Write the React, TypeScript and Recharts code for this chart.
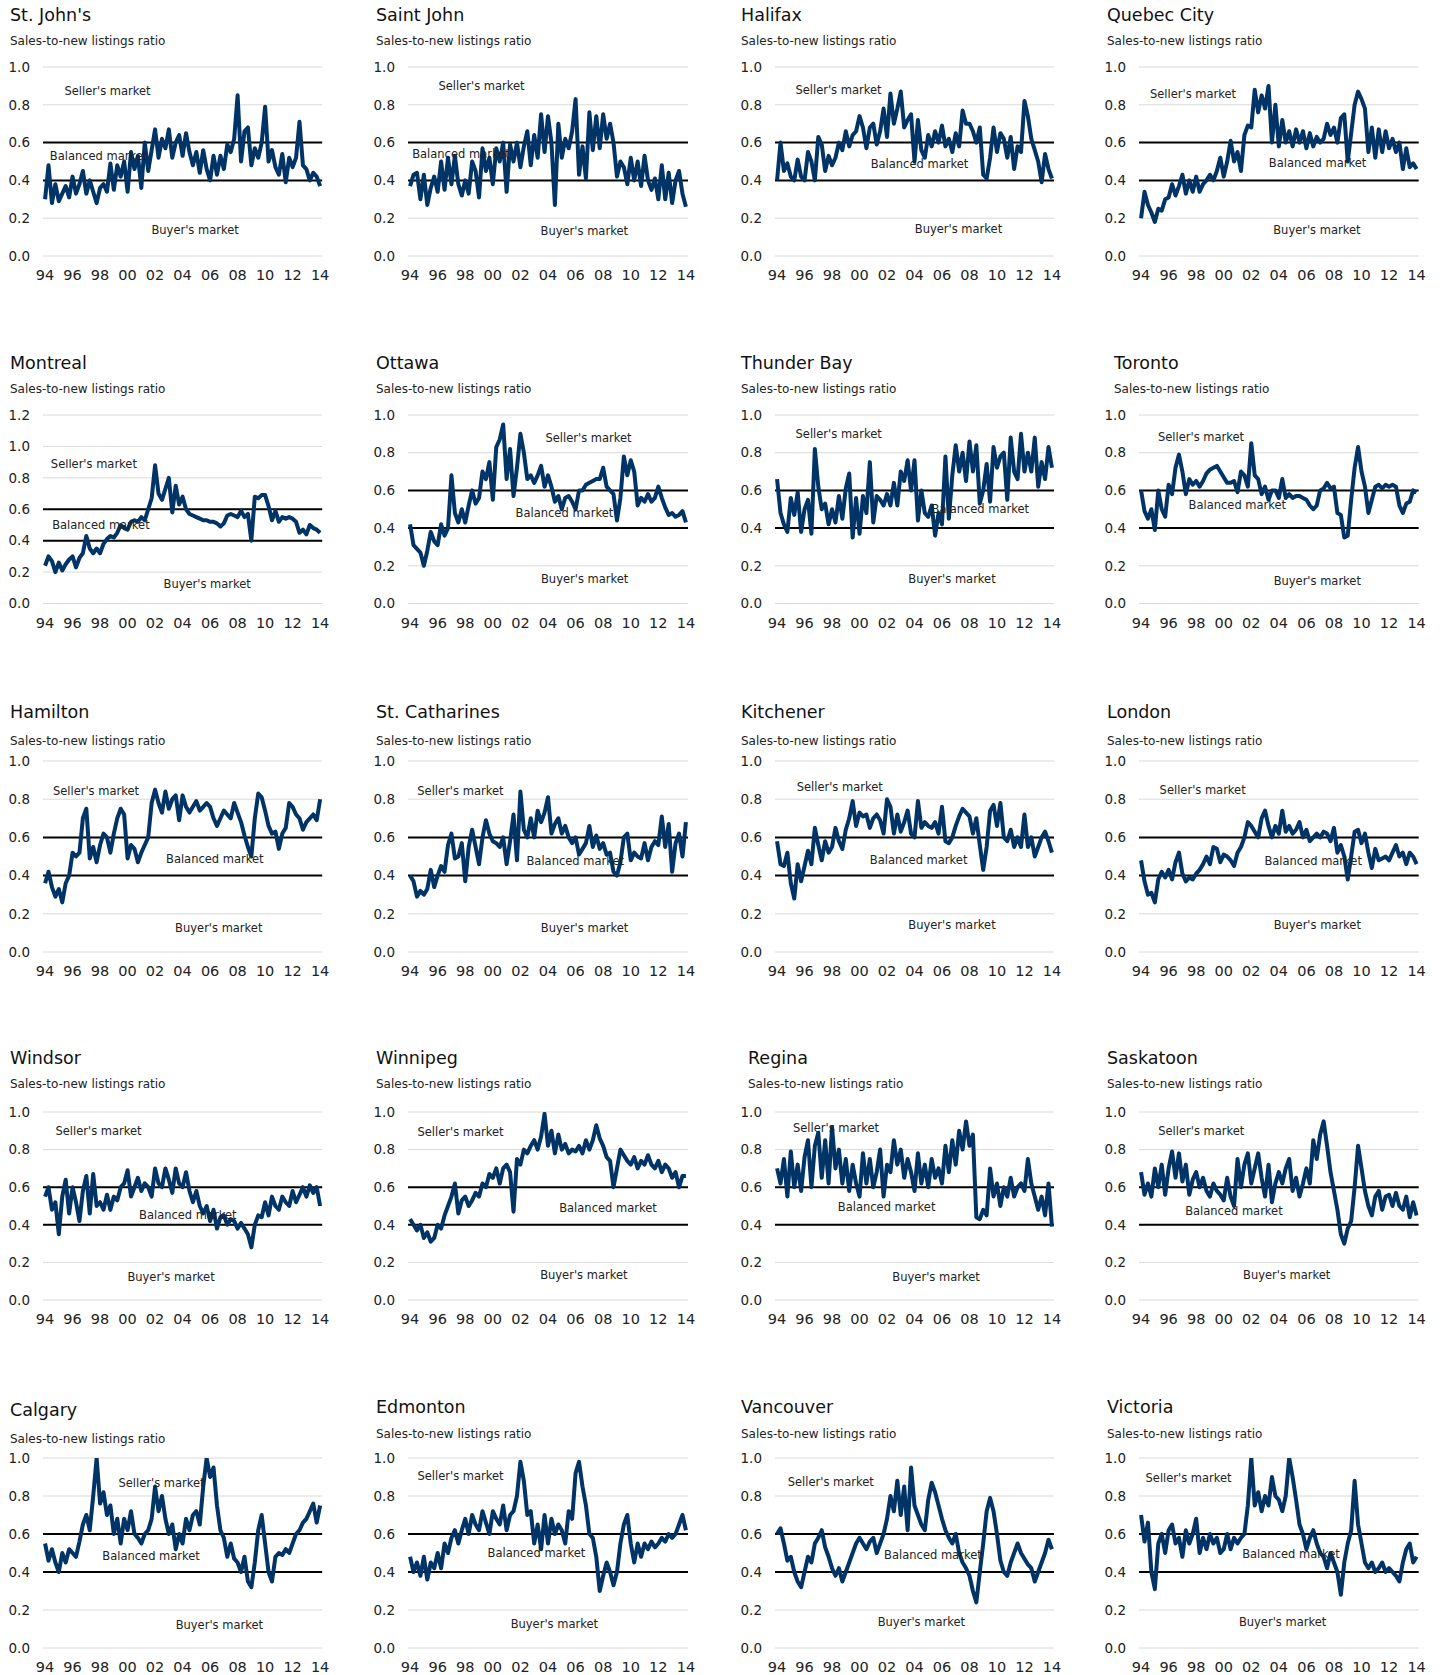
import React from "react";
import {
  LineChart,
  Line,
  XAxis,
  YAxis,
  CartesianGrid,
  ReferenceLine,
  ReferenceDot,
} from "recharts";

const FONT = "'DejaVu Sans', Verdana, sans-serif";
const NAVY = "#003366";
const TEXT = "#222";

// quarterly time index, 1994Q1 .. 2014Q1
const YEARS = Array.from({ length: 81 }, (_, i) => 1994 + i / 4);
const X_TICKS = [1994, 1996, 1998, 2000, 2002, 2004, 2006, 2008, 2010, 2012, 2014];
const Y_TICKS = [0, 0.2, 0.4, 0.6, 0.8, 1.0];
const Y_TICKS_12 = [0, 0.2, 0.4, 0.6, 0.8, 1.0, 1.2];

const ST_JOHNS = [
  0.30, 0.48, 0.28, 0.38, 0.29, 0.33, 0.37, 0.31, 0.42, 0.33, 0.38, 0.45,
  0.33, 0.40, 0.34, 0.28, 0.36, 0.38, 0.34, 0.49, 0.35, 0.48, 0.42, 0.50,
  0.34, 0.55, 0.46, 0.53, 0.36, 0.60, 0.45, 0.56, 0.67, 0.52, 0.62, 0.57,
  0.67, 0.52, 0.60, 0.64, 0.53, 0.65, 0.55, 0.48, 0.55, 0.44, 0.56, 0.46,
  0.40, 0.53, 0.43, 0.53, 0.46, 0.59, 0.55, 0.62, 0.85, 0.50, 0.66, 0.68,
  0.48, 0.57, 0.52, 0.60, 0.79, 0.50, 0.56, 0.47, 0.43, 0.54, 0.39, 0.52,
  0.47, 0.52, 0.71, 0.48, 0.46, 0.40, 0.44, 0.42, 0.37,
];
const SAINT_JOHN = [
  0.37, 0.43, 0.44, 0.30, 0.43, 0.27, 0.36, 0.42, 0.34, 0.50, 0.35, 0.52,
  0.38, 0.53, 0.38, 0.32, 0.40, 0.33, 0.50, 0.45, 0.31, 0.57, 0.45, 0.52,
  0.38, 0.57, 0.50, 0.60, 0.34, 0.59, 0.50, 0.60, 0.47, 0.58, 0.66, 0.48,
  0.64, 0.52, 0.75, 0.55, 0.74, 0.60, 0.27, 0.70, 0.52, 0.62, 0.57, 0.66,
  0.83, 0.43, 0.58, 0.41, 0.76, 0.56, 0.74, 0.57, 0.75, 0.62, 0.70, 0.60,
  0.42, 0.50, 0.47, 0.38, 0.52, 0.40, 0.50, 0.37, 0.53, 0.40, 0.35, 0.41,
  0.30, 0.48, 0.30, 0.44, 0.28, 0.40, 0.45, 0.33, 0.26,
];
const HALIFAX = [
  0.40, 0.60, 0.45, 0.49, 0.42, 0.40, 0.51, 0.42, 0.40, 0.55, 0.50, 0.40,
  0.63, 0.59, 0.45, 0.53, 0.48, 0.52, 0.60, 0.56, 0.66, 0.58, 0.64, 0.66,
  0.74, 0.68, 0.57, 0.68, 0.70, 0.59, 0.66, 0.78, 0.63, 0.86, 0.70, 0.78,
  0.87, 0.68, 0.72, 0.75, 0.50, 0.72, 0.56, 0.52, 0.64, 0.58, 0.66, 0.60,
  0.69, 0.58, 0.62, 0.55, 0.65, 0.58, 0.77, 0.70, 0.70, 0.66, 0.60, 0.68,
  0.43, 0.41, 0.52, 0.68, 0.55, 0.65, 0.62, 0.52, 0.63, 0.46, 0.58, 0.55,
  0.82, 0.74, 0.62, 0.56, 0.50, 0.39, 0.54, 0.46, 0.41,
];
const QUEBEC_CITY = [
  0.20, 0.34, 0.27, 0.23, 0.18, 0.25, 0.24, 0.30, 0.31, 0.38, 0.32, 0.37,
  0.43, 0.33, 0.40, 0.34, 0.42, 0.34, 0.38, 0.40, 0.43, 0.40, 0.45, 0.52,
  0.42, 0.50, 0.61, 0.50, 0.55, 0.45, 0.64, 0.69, 0.68, 0.88, 0.76, 0.85,
  0.78, 0.90, 0.60, 0.80, 0.58, 0.72, 0.60, 0.66, 0.58, 0.67, 0.60, 0.66,
  0.57, 0.65, 0.58, 0.63, 0.60, 0.62, 0.70, 0.64, 0.68, 0.60, 0.73, 0.75,
  0.50, 0.65, 0.80, 0.87, 0.83, 0.78, 0.55, 0.68, 0.52, 0.67, 0.55, 0.66,
  0.57, 0.62, 0.55, 0.60, 0.46, 0.57, 0.47, 0.49, 0.46,
];
const MONTREAL = [
  0.24, 0.30, 0.27, 0.20, 0.26, 0.21, 0.25, 0.28, 0.30, 0.23, 0.29, 0.32,
  0.43, 0.35, 0.32, 0.35, 0.32, 0.38, 0.41, 0.43, 0.42, 0.45, 0.50, 0.48,
  0.47, 0.52, 0.53, 0.52, 0.55, 0.53, 0.60, 0.67, 0.88, 0.70, 0.66, 0.73,
  0.80, 0.58, 0.75, 0.63, 0.68, 0.60, 0.57, 0.56, 0.55, 0.54, 0.53, 0.53,
  0.52, 0.52, 0.51, 0.49, 0.51, 0.56, 0.57, 0.56, 0.55, 0.59, 0.55, 0.57,
  0.40, 0.68, 0.67, 0.69, 0.69, 0.62, 0.53, 0.59, 0.52, 0.55, 0.54, 0.55,
  0.54, 0.52, 0.45, 0.47, 0.44, 0.50, 0.48, 0.47, 0.45,
];
const OTTAWA = [
  0.42, 0.31, 0.29, 0.27, 0.20, 0.28, 0.38, 0.33, 0.31, 0.42, 0.36, 0.40,
  0.68, 0.48, 0.43, 0.50, 0.43, 0.52, 0.60, 0.53, 0.56, 0.70, 0.66, 0.75,
  0.55, 0.83, 0.87, 0.95, 0.66, 0.82, 0.57, 0.72, 0.90, 0.80, 0.66, 0.68,
  0.64, 0.68, 0.73, 0.62, 0.68, 0.62, 0.54, 0.57, 0.50, 0.56, 0.57, 0.54,
  0.50, 0.60, 0.60, 0.63, 0.64, 0.65, 0.66, 0.66, 0.72, 0.62, 0.60, 0.58,
  0.44, 0.56, 0.78, 0.68, 0.76, 0.70, 0.52, 0.56, 0.54, 0.58, 0.54, 0.56,
  0.62, 0.56, 0.51, 0.47, 0.48, 0.46, 0.47, 0.49, 0.43,
];
const THUNDER_BAY = [
  0.66, 0.48, 0.42, 0.38, 0.56, 0.47, 0.59, 0.38, 0.50, 0.55, 0.37, 0.82,
  0.62, 0.50, 0.53, 0.42, 0.50, 0.43, 0.57, 0.45, 0.61, 0.69, 0.35, 0.56,
  0.37, 0.57, 0.48, 0.75, 0.43, 0.57, 0.55, 0.52, 0.58, 0.52, 0.64, 0.52,
  0.70, 0.65, 0.76, 0.60, 0.76, 0.44, 0.60, 0.48, 0.46, 0.52, 0.36, 0.48,
  0.42, 0.78, 0.45, 0.68, 0.84, 0.70, 0.80, 0.65, 0.86, 0.70, 0.84, 0.53,
  0.60, 0.74, 0.54, 0.83, 0.72, 0.78, 0.80, 0.55, 0.88, 0.70, 0.66, 0.90,
  0.70, 0.80, 0.70, 0.88, 0.62, 0.75, 0.66, 0.83, 0.72,
];
const TORONTO = [
  0.60, 0.49, 0.45, 0.50, 0.39, 0.60, 0.50, 0.46, 0.63, 0.58, 0.72, 0.79,
  0.70, 0.58, 0.66, 0.63, 0.65, 0.62, 0.65, 0.69, 0.71, 0.72, 0.73, 0.70,
  0.67, 0.64, 0.64, 0.65, 0.59, 0.70, 0.68, 0.62, 0.85, 0.68, 0.66, 0.58,
  0.62, 0.55, 0.60, 0.60, 0.56, 0.66, 0.56, 0.58, 0.56, 0.57, 0.57, 0.56,
  0.55, 0.52, 0.50, 0.52, 0.60, 0.61, 0.64, 0.61, 0.62, 0.48, 0.47, 0.35,
  0.36, 0.55, 0.72, 0.83, 0.70, 0.62, 0.48, 0.55, 0.62, 0.63, 0.61, 0.63,
  0.62, 0.63, 0.62, 0.52, 0.48, 0.53, 0.54, 0.60, 0.59,
];
const HAMILTON = [
  0.36, 0.42, 0.34, 0.29, 0.33, 0.26, 0.36, 0.40, 0.52, 0.50, 0.52, 0.70,
  0.75, 0.49, 0.55, 0.47, 0.56, 0.62, 0.60, 0.52, 0.62, 0.70, 0.75, 0.72,
  0.49, 0.56, 0.54, 0.47, 0.52, 0.56, 0.60, 0.78, 0.85, 0.78, 0.73, 0.84,
  0.75, 0.80, 0.82, 0.69, 0.82, 0.76, 0.73, 0.76, 0.79, 0.74, 0.76, 0.78,
  0.76, 0.70, 0.66, 0.70, 0.74, 0.72, 0.70, 0.78, 0.73, 0.68, 0.61, 0.55,
  0.50, 0.70, 0.83, 0.81, 0.74, 0.66, 0.62, 0.63, 0.54, 0.62, 0.65, 0.78,
  0.76, 0.72, 0.70, 0.64, 0.68, 0.70, 0.72, 0.69, 0.80,
];
const ST_CATHARINES = [
  0.40, 0.37, 0.29, 0.32, 0.30, 0.33, 0.43, 0.34, 0.40, 0.45, 0.42, 0.56,
  0.62, 0.49, 0.50, 0.57, 0.37, 0.55, 0.64, 0.55, 0.46, 0.60, 0.69, 0.62,
  0.58, 0.57, 0.55, 0.60, 0.46, 0.58, 0.72, 0.48, 0.84, 0.64, 0.60, 0.70,
  0.60, 0.74, 0.68, 0.73, 0.81, 0.62, 0.67, 0.70, 0.62, 0.66, 0.60, 0.57,
  0.60, 0.51, 0.54, 0.57, 0.66, 0.55, 0.61, 0.54, 0.57, 0.51, 0.52, 0.42,
  0.40, 0.47, 0.60, 0.62, 0.48, 0.52, 0.50, 0.49, 0.57, 0.48, 0.55, 0.58,
  0.56, 0.71, 0.55, 0.67, 0.42, 0.57, 0.62, 0.50, 0.68,
];
const KITCHENER = [
  0.58, 0.46, 0.45, 0.52, 0.36, 0.28, 0.46, 0.37, 0.45, 0.53, 0.46, 0.65,
  0.56, 0.48, 0.58, 0.52, 0.55, 0.65, 0.58, 0.54, 0.64, 0.70, 0.79, 0.66,
  0.73, 0.71, 0.72, 0.65, 0.70, 0.72, 0.69, 0.62, 0.80, 0.76, 0.62, 0.72,
  0.63, 0.68, 0.74, 0.62, 0.60, 0.79, 0.65, 0.68, 0.66, 0.65, 0.68, 0.62,
  0.76, 0.58, 0.57, 0.60, 0.66, 0.71, 0.75, 0.73, 0.71, 0.62, 0.70, 0.56,
  0.43, 0.55, 0.74, 0.77, 0.66, 0.78, 0.60, 0.58, 0.64, 0.55, 0.60, 0.55,
  0.72, 0.55, 0.60, 0.50, 0.55, 0.60, 0.63, 0.58, 0.52,
];
const LONDON = [
  0.48, 0.37, 0.30, 0.31, 0.26, 0.38, 0.42, 0.39, 0.43, 0.38, 0.47, 0.52,
  0.41, 0.37, 0.39, 0.38, 0.41, 0.43, 0.46, 0.50, 0.46, 0.55, 0.54, 0.47,
  0.51, 0.50, 0.48, 0.45, 0.52, 0.55, 0.60, 0.68, 0.66, 0.63, 0.60, 0.70,
  0.74, 0.66, 0.60, 0.66, 0.62, 0.74, 0.63, 0.66, 0.62, 0.64, 0.68, 0.60,
  0.64, 0.58, 0.60, 0.62, 0.60, 0.63, 0.62, 0.58, 0.65, 0.52, 0.56, 0.50,
  0.38, 0.50, 0.63, 0.64, 0.57, 0.62, 0.52, 0.44, 0.54, 0.48, 0.49, 0.50,
  0.48, 0.52, 0.56, 0.50, 0.52, 0.46, 0.52, 0.50, 0.46,
];
const WINDSOR = [
  0.55, 0.60, 0.48, 0.52, 0.35, 0.55, 0.64, 0.46, 0.60, 0.52, 0.42, 0.58,
  0.66, 0.46, 0.67, 0.50, 0.52, 0.48, 0.56, 0.48, 0.55, 0.53, 0.60, 0.62,
  0.69, 0.55, 0.60, 0.65, 0.58, 0.62, 0.60, 0.55, 0.70, 0.62, 0.60, 0.70,
  0.64, 0.57, 0.70, 0.62, 0.60, 0.68, 0.58, 0.52, 0.58, 0.50, 0.46, 0.50,
  0.42, 0.48, 0.38, 0.44, 0.45, 0.40, 0.43, 0.42, 0.38, 0.41, 0.38, 0.35,
  0.28, 0.40, 0.45, 0.44, 0.52, 0.45, 0.55, 0.50, 0.48, 0.55, 0.52, 0.50,
  0.58, 0.52, 0.56, 0.60, 0.55, 0.61, 0.57, 0.60, 0.50,
];
const WINNIPEG = [
  0.43, 0.40, 0.37, 0.40, 0.33, 0.36, 0.31, 0.33, 0.40, 0.38, 0.45, 0.50,
  0.55, 0.62, 0.46, 0.53, 0.55, 0.50, 0.53, 0.57, 0.55, 0.62, 0.60, 0.67,
  0.65, 0.70, 0.62, 0.70, 0.72, 0.68, 0.47, 0.75, 0.72, 0.80, 0.78, 0.82,
  0.85, 0.80, 0.87, 0.99, 0.82, 0.90, 0.78, 0.88, 0.80, 0.83, 0.78, 0.80,
  0.79, 0.82, 0.78, 0.85, 0.80, 0.85, 0.93, 0.86, 0.82, 0.76, 0.74, 0.60,
  0.70, 0.80, 0.77, 0.74, 0.72, 0.76, 0.70, 0.74, 0.72, 0.77, 0.72, 0.70,
  0.74, 0.68, 0.72, 0.70, 0.65, 0.68, 0.60, 0.66, 0.66,
];
const REGINA = [
  0.70, 0.62, 0.75, 0.55, 0.79, 0.60, 0.72, 0.58, 0.76, 0.85, 0.60, 0.82,
  0.89, 0.65, 0.85, 0.62, 0.92, 0.70, 0.80, 0.62, 0.75, 0.58, 0.72, 0.62,
  0.55, 0.78, 0.62, 0.75, 0.60, 0.68, 0.80, 0.55, 0.72, 0.68, 0.85, 0.72,
  0.80, 0.65, 0.75, 0.68, 0.58, 0.78, 0.62, 0.72, 0.60, 0.75, 0.65, 0.70,
  0.62, 0.82, 0.68, 0.85, 0.72, 0.90, 0.80, 0.95, 0.82, 0.88, 0.44, 0.43,
  0.48, 0.45, 0.70, 0.55, 0.62, 0.50, 0.60, 0.55, 0.65, 0.55, 0.60, 0.62,
  0.58, 0.75, 0.62, 0.55, 0.48, 0.55, 0.45, 0.62, 0.39,
];
const SASKATOON = [
  0.68, 0.56, 0.62, 0.55, 0.70, 0.60, 0.72, 0.56, 0.70, 0.79, 0.65, 0.78,
  0.63, 0.72, 0.56, 0.64, 0.68, 0.60, 0.65, 0.58, 0.55, 0.62, 0.58, 0.56,
  0.53, 0.65, 0.55, 0.50, 0.75, 0.60, 0.72, 0.78, 0.62, 0.70, 0.78, 0.65,
  0.55, 0.72, 0.52, 0.62, 0.68, 0.62, 0.70, 0.75, 0.58, 0.65, 0.55, 0.62,
  0.70, 0.62, 0.85, 0.75, 0.88, 0.95, 0.82, 0.68, 0.58, 0.48, 0.35, 0.30,
  0.38, 0.42, 0.60, 0.82, 0.70, 0.58, 0.50, 0.45, 0.55, 0.58, 0.48, 0.55,
  0.56, 0.50, 0.57, 0.50, 0.48, 0.55, 0.44, 0.52, 0.45,
];
const CALGARY = [
  0.55, 0.46, 0.52, 0.45, 0.40, 0.50, 0.45, 0.52, 0.50, 0.48, 0.56, 0.65,
  0.70, 0.62, 0.80, 1.00, 0.76, 0.82, 0.70, 0.75, 0.60, 0.68, 0.55, 0.68,
  0.62, 0.72, 0.60, 0.58, 0.55, 0.60, 0.62, 0.68, 0.85, 0.72, 0.80, 0.68,
  0.60, 0.65, 0.52, 0.60, 0.55, 0.68, 0.62, 0.70, 0.72, 0.65, 0.85, 1.00,
  0.90, 0.95, 0.75, 0.62, 0.58, 0.48, 0.55, 0.47, 0.45, 0.40, 0.48, 0.35,
  0.32, 0.45, 0.62, 0.70, 0.55, 0.40, 0.35, 0.48, 0.50, 0.49, 0.52, 0.50,
  0.55, 0.60, 0.62, 0.66, 0.68, 0.72, 0.76, 0.66, 0.75,
];
const EDMONTON = [
  0.48, 0.40, 0.45, 0.38, 0.48, 0.36, 0.45, 0.42, 0.50, 0.42, 0.55, 0.50,
  0.58, 0.62, 0.55, 0.62, 0.68, 0.60, 0.70, 0.65, 0.62, 0.72, 0.66, 0.60,
  0.72, 0.68, 0.65, 0.75, 0.62, 0.70, 0.72, 0.80, 0.98, 0.88, 0.70, 0.72,
  0.55, 0.65, 0.52, 0.70, 0.55, 0.68, 0.60, 0.65, 0.62, 0.55, 0.72, 0.68,
  0.92, 0.98, 0.85, 0.75, 0.60, 0.58, 0.48, 0.30, 0.38, 0.45, 0.40, 0.33,
  0.40, 0.55, 0.65, 0.70, 0.55, 0.45, 0.55, 0.48, 0.55, 0.52, 0.56, 0.53,
  0.55, 0.58, 0.56, 0.60, 0.58, 0.60, 0.65, 0.70, 0.62,
];
const VANCOUVER = [
  0.60, 0.63, 0.55, 0.46, 0.48, 0.40, 0.35, 0.32, 0.40, 0.48, 0.45, 0.55,
  0.58, 0.62, 0.53, 0.48, 0.42, 0.38, 0.42, 0.35, 0.40, 0.45, 0.50, 0.55,
  0.58, 0.55, 0.52, 0.56, 0.58, 0.50, 0.55, 0.60, 0.68, 0.80, 0.72, 0.88,
  0.70, 0.85, 0.62, 0.95, 0.75, 0.70, 0.65, 0.62, 0.78, 0.87, 0.82, 0.75,
  0.68, 0.62, 0.58, 0.55, 0.60, 0.50, 0.45, 0.42, 0.38, 0.30, 0.24, 0.40,
  0.55, 0.72, 0.79, 0.72, 0.60, 0.46, 0.40, 0.38, 0.45, 0.50, 0.55, 0.50,
  0.47, 0.44, 0.42, 0.35, 0.40, 0.45, 0.50, 0.57, 0.52,
];
const VICTORIA = [
  0.70, 0.56, 0.66, 0.40, 0.31, 0.55, 0.60, 0.50, 0.62, 0.65, 0.55, 0.58,
  0.48, 0.62, 0.55, 0.60, 0.68, 0.50, 0.58, 0.52, 0.60, 0.55, 0.58, 0.50,
  0.52, 0.60, 0.52, 0.58, 0.55, 0.58, 0.60, 0.75, 1.00, 0.75, 0.82, 0.72,
  0.80, 0.75, 0.90, 0.80, 0.78, 0.72, 0.80, 1.00, 0.90, 0.78, 0.65, 0.60,
  0.52, 0.58, 0.62, 0.55, 0.50, 0.48, 0.42, 0.50, 0.45, 0.40, 0.28, 0.45,
  0.55, 0.62, 0.88, 0.65, 0.55, 0.45, 0.42, 0.45, 0.40, 0.42, 0.45, 0.40,
  0.42, 0.40, 0.38, 0.35, 0.45, 0.52, 0.55, 0.45, 0.48,
];

// plot-area extents (page px) per grid column / row
const COL_PLOT = [
  [43.3, 322.5],
  [408, 688],
  [774.5, 1053.5],
  [1139.3, 1419],
];
const ROW_PLOT = [
  [66.7, 255.7],
  [415, 603.5],
  [761, 952],
  [1112, 1300],
  [1458, 1648],
];
const TITLE_X = [10, 376, 741, 1107];
const TITLE_Y = [14.5, 362.8, 712, 1057.5, 1407];
const SUB_Y = [40.5, 389.3, 741, 1084, 1434];

const Y_AXIS_W = 45;
const TOP = 10;
const RIGHT = 8;
const X_AXIS_H = 30;

type Pos = [number, number];
interface PanelSpec {
  name: string;
  values: number[];
  col: number;
  row: number;
  yMax?: number;
  titleX?: number;
  titleY?: number;
  subY?: number;
  seller: Pos;
  balanced: Pos;
  buyer: Pos;
}

const PANELS: PanelSpec[] = [
  { name: "St. John's", values: ST_JOHNS, col: 0, row: 0, seller: [1998.54, 0.873], balanced: [1997.89, 0.527], buyer: [2004.91, 0.136] },
  { name: "Saint John", values: SAINT_JOHN, col: 1, row: 0, seller: [1999.18, 0.898], balanced: [1997.69, 0.541], buyer: [2006.63, 0.132] },
  { name: "Halifax", values: HALIFAX, col: 2, row: 0, seller: [1998.47, 0.88], balanced: [2004.36, 0.489], buyer: [2007.2, 0.143] },
  { name: "Quebec City", values: QUEBEC_CITY, col: 3, row: 0, seller: [1997.77, 0.855], balanced: [2006.81, 0.492], buyer: [2006.76, 0.136] },
  { name: "Montreal", values: MONTREAL, col: 0, row: 1, yMax: 1.2, seller: [1997.55, 0.886], balanced: [1998.06, 0.499], buyer: [2005.79, 0.127] },
  { name: "Ottawa", values: OTTAWA, col: 1, row: 1, seller: [2006.94, 0.88], balanced: [2005.19, 0.481], buyer: [2006.66, 0.129] },
  { name: "Thunder Bay", values: THUNDER_BAY, col: 2, row: 1, seller: [1998.48, 0.898], balanced: [2008.79, 0.502], buyer: [2006.73, 0.129] },
  { name: "Toronto", values: TORONTO, col: 3, row: 1, titleX: 1114, seller: [1998.35, 0.885], balanced: [2000.99, 0.525], buyer: [2006.79, 0.12] },
  { name: "Hamilton", values: HAMILTON, col: 0, row: 2, seller: [1997.7, 0.843], balanced: [2006.34, 0.486], buyer: [2006.63, 0.128] },
  { name: "St. Catharines", values: ST_CATHARINES, col: 1, row: 2, seller: [1997.65, 0.843], balanced: [2005.98, 0.477], buyer: [2006.65, 0.128] },
  { name: "Kitchener", values: KITCHENER, col: 2, row: 2, seller: [1998.56, 0.865], balanced: [2004.3, 0.484], buyer: [2006.73, 0.143] },
  { name: "London", values: LONDON, col: 3, row: 2, seller: [1998.47, 0.851], balanced: [2006.49, 0.476], buyer: [2006.79, 0.143] },
  { name: "Windsor", values: WINDSOR, col: 0, row: 3, seller: [1997.89, 0.898], balanced: [2004.38, 0.455], buyer: [2003.16, 0.125] },
  { name: "Winnipeg", values: WINNIPEG, col: 1, row: 3, seller: [1997.66, 0.892], balanced: [2008.35, 0.489], buyer: [2006.6, 0.131] },
  { name: "Regina", values: REGINA, col: 2, row: 3, titleX: 748, seller: [1998.29, 0.915], balanced: [2001.97, 0.494], buyer: [2005.57, 0.125] },
  { name: "Saskatoon", values: SASKATOON, col: 3, row: 3, seller: [1998.37, 0.898], balanced: [2000.74, 0.472], buyer: [2004.57, 0.136] },
  { name: "Calgary", values: CALGARY, col: 0, row: 4, titleY: 1410, subY: 1438.6, seller: [2002.47, 0.871], balanced: [2001.71, 0.483], buyer: [2006.67, 0.124] },
  { name: "Edmonton", values: EDMONTON, col: 1, row: 4, seller: [1997.66, 0.904], balanced: [2003.16, 0.5], buyer: [2004.46, 0.129] },
  { name: "Vancouver", values: VANCOUVER, col: 2, row: 4, seller: [1997.91, 0.876], balanced: [2005.34, 0.489], buyer: [2004.5, 0.135] },
  { name: "Victoria", values: VICTORIA, col: 3, row: 4, seller: [1997.45, 0.893], balanced: [2004.88, 0.494], buyer: [2004.27, 0.135] },
];

const labelStyle = { fill: TEXT, fontSize: 11.5, fontFamily: FONT };

function Panel({ spec }: { spec: PanelSpec }) {
  const [pl, pr] = COL_PLOT[spec.col];
  const [pt, pb] = ROW_PLOT[spec.row];
  const yMax = spec.yMax ?? 1;
  const width = pr - pl + Y_AXIS_W + RIGHT;
  const height = pb - pt + TOP + X_AXIS_H;
  const data = YEARS.map((x, i) => ({ x, v: spec.values[i] }));
  const tx = spec.titleX ?? TITLE_X[spec.col];
  const ty = spec.titleY ?? TITLE_Y[spec.row];
  const sy = spec.subY ?? SUB_Y[spec.row];

  const notes: [string, Pos][] = [
    ["Seller's market", spec.seller],
    ["Balanced market", spec.balanced],
    ["Buyer's market", spec.buyer],
  ];

  return (
    <>
      <div
        style={{
          position: "absolute",
          left: tx,
          top: ty - 10,
          fontSize: 17.5,
          lineHeight: "20px",
          color: "#111",
          whiteSpace: "nowrap",
        }}
      >
        {spec.name}
      </div>
      <div
        style={{
          position: "absolute",
          left: tx,
          top: sy - 7,
          fontSize: 12,
          lineHeight: "14px",
          color: TEXT,
          whiteSpace: "nowrap",
        }}
      >
        Sales-to-new listings ratio
      </div>
      <div style={{ position: "absolute", left: pl - Y_AXIS_W, top: pt - TOP }}>
        <LineChart
          width={width}
          height={height}
          data={data}
          margin={{ top: TOP, right: RIGHT, bottom: 0, left: 0 }}
        >
          <CartesianGrid vertical={false} stroke="#d9d9d9" />
          <XAxis
            dataKey="x"
            type="number"
            domain={[1993.85, 2014.15]}
            allowDataOverflow
            ticks={X_TICKS}
            interval={0}
            tickFormatter={(v: number) => String(v).slice(2)}
            axisLine={false}
            tickLine={false}
            tickSize={0}
            tickMargin={14}
            height={X_AXIS_H}
            tick={{ fill: TEXT, fontSize: 14.5, fontFamily: FONT }}
          />
          <YAxis
            type="number"
            domain={[0, yMax]}
            allowDataOverflow
            ticks={yMax > 1 ? Y_TICKS_12 : Y_TICKS}
            interval={0}
            tickFormatter={(v: number) => v.toFixed(1)}
            axisLine={false}
            tickLine={false}
            tickSize={0}
            tickMargin={13}
            width={Y_AXIS_W}
            tick={{ fill: TEXT, fontSize: 13.5, fontFamily: FONT }}
          />
          <ReferenceLine y={0.6} stroke="#000" strokeWidth={2} />
          <ReferenceLine y={0.4} stroke="#000" strokeWidth={2} />
          <Line
            dataKey="v"
            type="linear"
            stroke={NAVY}
            strokeWidth={4}
            strokeLinejoin="round"
            dot={false}
            activeDot={false}
            isAnimationActive={false}
          />
          {notes.map(([text, [x, y]]) => (
            <ReferenceDot
              key={text}
              x={x}
              y={y}
              r={0}
              fill="none"
              stroke="none"
              ifOverflow="visible"
              label={{ value: text, position: "center", ...labelStyle }}
            />
          ))}
        </LineChart>
      </div>
    </>
  );
}

export default function App() {
  return (
    <div
      style={{
        position: "relative",
        width: 1442,
        height: 1675,
        background: "#fff",
        fontFamily: FONT,
        overflow: "hidden",
      }}
    >
      <style>{"body{margin:0}"}</style>
      {PANELS.map((p) => (
        <Panel key={p.name} spec={p} />
      ))}
    </div>
  );
}
